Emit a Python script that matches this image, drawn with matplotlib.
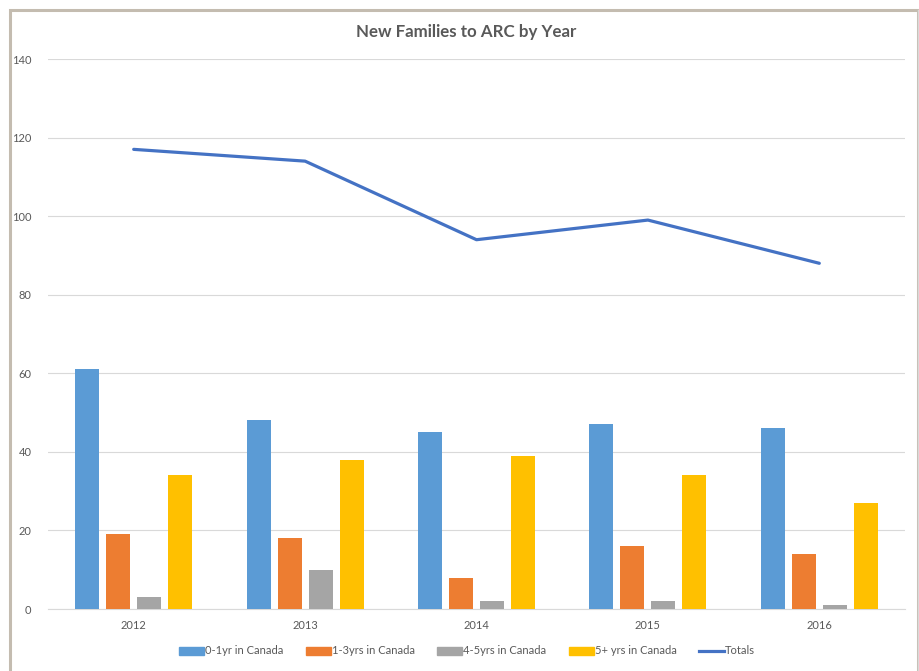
import matplotlib
matplotlib.use("Agg")
import matplotlib.pyplot as plt
import numpy as np
from matplotlib.patches import Rectangle
from matplotlib.lines import Line2D

years = ["2012", "2013", "2014", "2015", "2016"]
s_0_1 = [61, 48, 45, 47, 46]
s_1_3 = [19, 18, 8, 16, 14]
s_4_5 = [3, 10, 2, 2, 1]
s_5p = [34, 38, 39, 34, 27]
totals = [117, 114, 94, 99, 88]
series_names = ["0-1yr in Canada", "1-3yrs in Canada", "4-5yrs in Canada", "5+ yrs in Canada"]
colors = ["#5B9BD5", "#ED7D31", "#A5A5A5", "#FFC000"]
line_color = "#4472C4"
yticks = [0, 20, 40, 60, 80, 100, 120, 140]

plt.rcParams['font.family'] = ['Lato', 'DejaVu Sans']
fig = plt.figure(figsize=(9.2, 6.71), dpi=100)
ax = fig.add_axes([48/920, 1-609/671, 857/920, 550/671])

x = np.arange(len(years))
step = 0.181
width = 0.14
for i, (vals, c) in enumerate(zip([s_0_1, s_1_3, s_4_5, s_5p], colors)):
    ax.bar(x + (i - 1.5) * step, vals, width=width, color=c, zorder=3)
ax.plot(x, totals, color=line_color, linewidth=2.3, zorder=4, solid_capstyle='round')

ax.set_xlim(-0.5, len(years) - 0.5)
ax.set_ylim(0, 140)
ax.set_yticks(yticks)
ax.set_xticks(x)
ax.set_xticklabels(years)
ax.grid(axis='y', color='#D9D9D9', linewidth=0.8, zorder=0)
for sp in ['top', 'right', 'left']:
    ax.spines[sp].set_visible(False)
ax.spines['bottom'].set_color('#D9D9D9')
ax.tick_params(axis='both', length=0, colors='#595959', labelsize=8)
ax.tick_params(axis='y', pad=12)
ax.tick_params(axis='x', pad=8)

fig.text(466/920, 1-32/671, "New Families to ARC by Year", ha='center', va='center',
         fontsize=12.2, fontweight='bold', color='#595959')

handles = [Rectangle((0, 0), 1, 1, color=c) for c in colors]
handles.append(Line2D([0], [0], color=line_color, linewidth=2.3))
leg = fig.legend(handles, series_names + ["Totals"], loc='center', bbox_to_anchor=(467/920, 1-651/671),
                 ncol=5, frameon=False, fontsize=8, handlelength=2.25, handleheight=0.7,
                 handletextpad=0.1, columnspacing=2.0, labelcolor='#595959')

# outer border
fig.add_artist(Rectangle((10/920, -0.01), 908/920, 1 - 10/671 + 0.01, transform=fig.transFigure,
                         fill=False, edgecolor='#C4BCB0', linewidth=2.2))
fig.add_artist(Line2D([918/920, 918/920], [0, 1 - 10/671], transform=fig.transFigure,
                      color='#D9D9D9', linewidth=1))
fig.savefig("out.png", dpi=100)
